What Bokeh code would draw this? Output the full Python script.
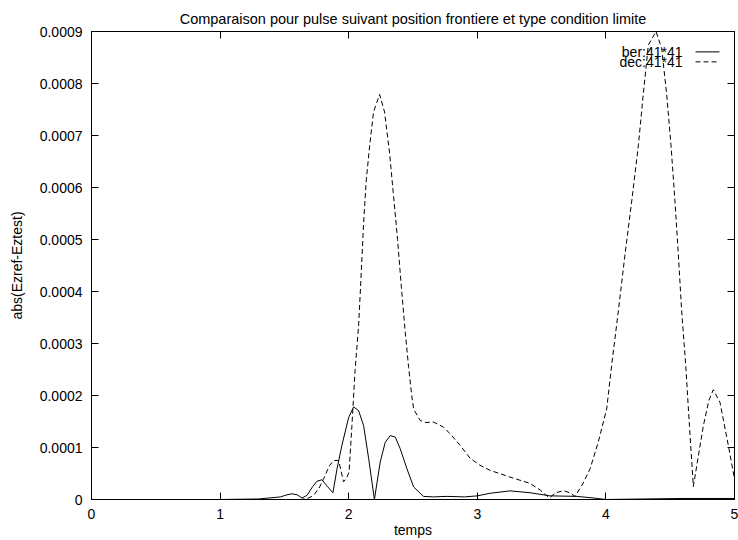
from bokeh.plotting import figure
from bokeh.models import Range1d, LinearAxis, FixedTicker, Label, Arrow, CustomLabelingPolicy
from bokeh.embed import file_html
from bokeh.resources import INLINE

# ---------------- data ----------------
title_text = "Comparaison pour pulse suivant position frontiere et type condition limite"
x_label = "temps"
y_label = "abs(Ezref-Eztest)"

x_ticks = [0, 1, 2, 3, 4, 5]
x_tick_labels = ["0", "1", "2", "3", "4", "5"]
y_ticks = [0, 0.0001, 0.0002, 0.0003, 0.0004, 0.0005, 0.0006, 0.0007, 0.0008, 0.0009]
y_tick_labels = ["0", "0.0001", "0.0002", "0.0003", "0.0004", "0.0005",
                 "0.0006", "0.0007", "0.0008", "0.0009"]

ber_name = "ber:41*41"
ber_t = [0.0, 1.0, 1.3, 1.47, 1.52, 1.56, 1.6, 1.637, 1.676, 1.72, 1.753, 1.792,
         1.835, 1.877, 1.91, 1.947, 2.0, 2.038, 2.077, 2.116, 2.155, 2.2, 2.245,
         2.284, 2.323, 2.362, 2.4, 2.453, 2.505, 2.582, 2.66, 2.764, 2.9, 3.0,
         3.1, 3.255, 3.41, 3.566, 3.774, 3.9, 4.0, 4.3, 4.6, 5.0]
ber_v = [0.0, 0.0, 1e-6, 5e-6, 9e-6, 1.1e-5, 9e-6, 3e-6, 8e-6, 2.5e-5, 3.5e-5, 3.8e-5,
         2.5e-5, 1.3e-5, 6e-5, 1.04e-4, 1.58e-4, 1.78e-4, 1.71e-4, 1.42e-4, 7.9e-5, 0.0, 7.2e-5,
         1.1e-4, 1.23e-4, 1.2e-4, 9.8e-5, 5.9e-5, 2.4e-5, 6e-6, 5e-6, 6e-6, 5e-6, 7e-6,
         1.2e-5, 1.66e-5, 1.3e-5, 7e-6, 6e-6, 3e-6, 0.0, 1e-6, 2e-6, 2e-6]

dec_name = "dec:41*41"
dec_t = [0.0, 1.0, 1.5, 1.63, 1.69, 1.727, 1.77, 1.805, 1.85, 1.883, 1.922, 1.96,
         1.985, 2.003, 2.025, 2.05, 2.077, 2.095, 2.116, 2.137, 2.162, 2.193, 2.24,
         2.279, 2.318, 2.349, 2.38, 2.409, 2.44, 2.466, 2.49, 2.505, 2.556, 2.6,
         2.66, 2.738, 2.79, 2.867, 2.945, 3.02, 3.1, 3.255, 3.41, 3.49, 3.56, 3.61,
         3.67, 3.72, 3.76, 3.82, 3.877, 3.94, 4.006, 4.046, 4.097, 4.149, 4.201,
         4.253, 4.29, 4.33, 4.39, 4.434, 4.473, 4.506, 4.537, 4.563, 4.589, 4.62,
         4.65, 4.68, 4.72, 4.758, 4.8, 4.835, 4.887, 4.952, 5.0]
dec_v = [0.0, 0.0, 0.0, 0.0, 3e-6, 8e-6, 2.2e-5, 4.0e-5, 6.5e-5, 7.5e-5, 7.5e-5, 3.4e-5,
         4.2e-5, 5.3e-5, 1.42e-4, 2.5e-4, 3.34e-4, 4.23e-4, 5.32e-4, 6.15e-4, 6.78e-4, 7.45e-4, 7.79e-4,
         7.45e-4, 6.66e-4, 5.83e-4, 5.0e-4, 4.1e-4, 3.21e-4, 2.54e-4, 2.0e-4, 1.74e-4, 1.52e-4, 1.48e-4,
         1.49e-4, 1.39e-4, 1.26e-4, 1.04e-4, 7.9e-5, 6.6e-5, 5.6e-5, 4.3e-5, 3.1e-5, 1.8e-5, 3e-6, 1.3e-5,
         1.7e-5, 1.3e-5, 6e-6, 3.0e-5, 5.9e-5, 1.1e-4, 1.74e-4, 2.61e-4, 3.63e-4, 4.72e-4, 5.74e-4,
         6.82e-4, 7.78e-4, 8.74e-4, 9.0e-4, 8.67e-4, 7.78e-4, 6.82e-4, 5.74e-4, 4.72e-4, 3.63e-4, 2.61e-4,
         1.4e-4, 2.5e-5, 8.5e-5, 1.42e-4, 1.9e-4, 2.11e-4, 1.87e-4, 1.04e-4, 4.0e-5]

# ---------------- styling ----------------
FONT = "Liberation Sans"
FS = "14px"
DASH = "5 3"

p = figure(width=738, height=540, x_range=Range1d(0, 5), y_range=Range1d(0, 0.0009),
           output_backend="svg", toolbar_location=None, title=title_text,
           min_border_left=91, min_border_right=4, min_border_top=31, min_border_bottom=39)

p.title.text_font = FONT
p.title.text_font_size = "14.5px"
p.title.text_font_style = "normal"
p.title.text_color = "black"
p.title.align = "center"
p.title.standoff = 10

p.xgrid.visible = False
p.ygrid.visible = False
p.outline_line_color = "black"
p.outline_line_alpha = 1
p.outline_line_width = 1
p.background_fill_color = "white"
p.border_fill_color = "white"

hide_all = CustomLabelingPolicy(code="for (const i of indices) indices.unset(i)")


def style_axis(ax, show_labels):
    ax.major_tick_in = 7
    ax.major_tick_out = 0
    ax.minor_tick_in = 0
    ax.minor_tick_out = 0
    ax.axis_line_color = "black"
    ax.major_tick_line_color = "black"
    ax.major_label_text_color = "black"
    ax.major_label_text_font = FONT
    ax.axis_label_text_font = FONT
    ax.axis_label_text_font_size = FS
    ax.axis_label_text_font_style = "normal"
    ax.axis_label_text_color = "black"
    if show_labels:
        ax.major_label_text_font_size = FS
    else:
        ax.major_label_text_font_size = "0px"
        ax.major_label_standoff = 0
        ax.axis_label_standoff = 0
        ax.major_label_policy = hide_all


xa = p.xaxis[0]
ya = p.yaxis[0]
xa.ticker = FixedTicker(ticks=x_ticks)
xa.major_label_overrides = dict(zip(x_ticks, x_tick_labels))
ya.ticker = FixedTicker(ticks=y_ticks)
ya.major_label_overrides = dict(zip(y_ticks, y_tick_labels))
style_axis(xa, True)
style_axis(ya, True)
xa.axis_label = x_label
ya.axis_label = y_label
xa.major_label_standoff = 9
xa.axis_label_standoff = 0
ya.major_label_standoff = 9
ya.axis_label_standoff = 12

ra = LinearAxis(ticker=FixedTicker(ticks=y_ticks))
style_axis(ra, False)
p.add_layout(ra, "right")
ta = LinearAxis(ticker=FixedTicker(ticks=x_ticks))
style_axis(ta, False)
p.add_layout(ta, "above")

p.line(ber_t, ber_v, line_color="black", line_width=1)
p.line(dec_t, dec_v, line_color="black", line_width=1, line_dash=DASH)

# legend (gnuplot style: text right-aligned, then sample)
leg_text_x = 4.596
leg_y = [8.608e-4, 8.416e-4]
leg_line_x = (4.697, 4.883)
for name, yy, dash in [(ber_name, leg_y[0], "solid"), (dec_name, leg_y[1], DASH)]:
    p.add_layout(Label(x=leg_text_x, y=yy, text=name, text_align="right",
                       text_baseline="middle", text_font=FONT, text_font_size=FS,
                       text_color="black"))
    p.add_layout(Arrow(end=None, x_start=leg_line_x[0], y_start=yy,
                       x_end=leg_line_x[1], y_end=yy, line_color="black",
                       line_width=1, line_dash=dash))

open("out.html", "w").write(file_html(p, INLINE))
